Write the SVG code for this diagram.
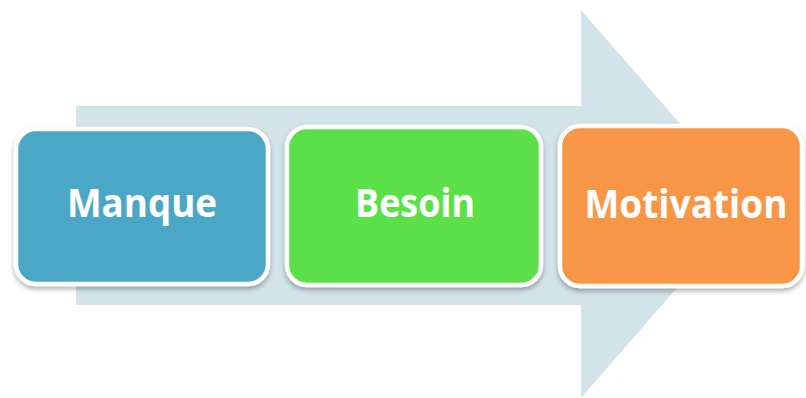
<svg xmlns="http://www.w3.org/2000/svg" width="806" height="398" viewBox="0 0 806 398">
  <defs>
    <filter id="sh" x="-10%" y="-10%" width="120%" height="130%">
      <feDropShadow dx="0" dy="3" stdDeviation="2.5" flood-color="#000" flood-opacity="0.3"/>
    </filter>
    <style>
      .box { stroke: #ffffff; stroke-width: 4.5; filter: url(#sh); }
      .lbl { font-family: "Open Sans", "Liberation Sans", sans-serif; font-weight: bold; font-size: 40px; fill: #ffffff; text-anchor: middle; }
    </style>
  </defs>
  <rect width="806" height="398" fill="#ffffff"/>
  <g id="connectors">
    <polygon points="76,106 581,106 581,10 750,204 581,398 581,305 76,305" fill="#d3e3ea"/>
  </g>
  <g id="manque">
    <rect class="box" x="16" y="129" width="252" height="155" rx="20" fill="#4ba7c6"/>
    <text class="lbl" x="142" y="217" textLength="150" lengthAdjust="spacingAndGlyphs">Manque</text>
  </g>
  <g id="besoin">
    <rect class="box" x="287" y="127" width="254" height="158" rx="20" fill="#5ce04a"/>
    <text class="lbl" x="415" y="217" textLength="120" lengthAdjust="spacingAndGlyphs">Besoin</text>
  </g>
  <g id="motivation">
    <rect class="box" x="560" y="126" width="242" height="160" rx="20" fill="#f79646"/>
    <text class="lbl" x="686" y="218" textLength="203" lengthAdjust="spacingAndGlyphs">Motivation</text>
  </g>
</svg>
